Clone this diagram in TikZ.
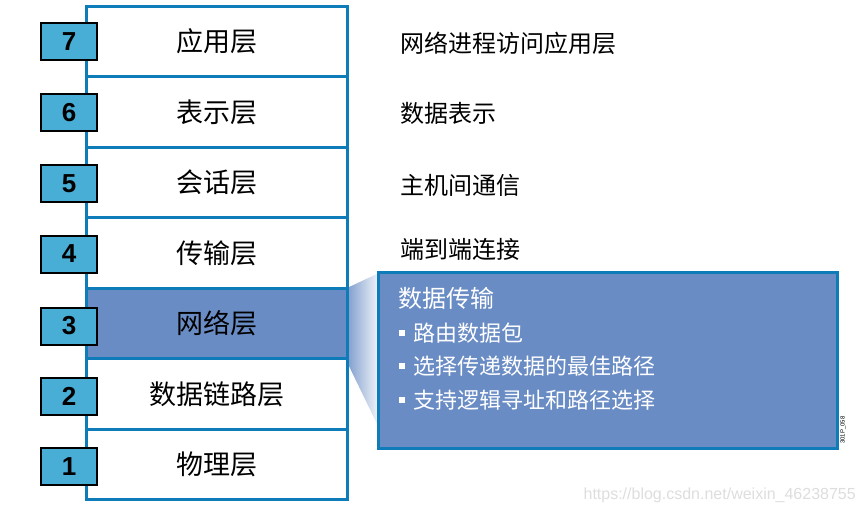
\documentclass[tikz,border=0pt]{standalone}
\usepackage{fontspec}
\setmainfont{Liberation Sans}
\newfontfamily\cjk{Noto Sans CJK SC}
\definecolor{stackblue}{RGB}{14,124,184}
\definecolor{netfill}{RGB}{105,140,196}
\definecolor{numfill}{RGB}{72,174,214}
\definecolor{wmgray}{RGB}{222,222,222}
\begin{document}
\begin{tikzpicture}[x=1pt,y=-1pt]
\tikzset{
  layer/.style={draw=stackblue, line width=3pt, fill=white, minimum width=261pt,
    minimum height=70.57pt, inner sep=0pt, font=\cjk\fontsize{27}{27}\selectfont},
  numbox/.style={draw=black, line width=2pt, fill=numfill, minimum width=56pt,
    minimum height=37pt, inner sep=0pt, font=\bfseries\fontsize{26}{26}\selectfont},
  desc/.style={anchor=west, inner sep=0pt, font=\cjk\fontsize{24}{24}\selectfont},
  intext/.style={anchor=west, inner sep=0pt, text=white, font=\cjk\fontsize{22}{22}\selectfont},
  bullet/.style={fill=white, minimum size=6.5pt, inner sep=0pt},
}
\useasboundingbox (0,0) rectangle (865,514);
\fill[white] (0,0) rectangle (865,514);

% wedge
\shade[left color=netfill!85, right color=netfill!8] (347,288) -- (379,273) -- (379,428) -- (347,362) -- cycle;

% detail box
\node[draw=stackblue, line width=3pt, fill=netfill, minimum width=459pt, minimum height=176pt, inner sep=0pt] (detail) at (607.5,360) {};
\node[intext, font=\cjk\fontsize{24}{24}\selectfont] (t0) at (398,298) {数据传输};
\node[bullet] (b1) at (402,333) {};
\node[intext] (t1) at (413,333) {路由数据包};
\node[bullet] (b2) at (402,366) {};
\node[intext] (t2) at (413,366) {选择传递数据的最佳路径};
\node[bullet] (b3) at (402,400) {};
\node[intext] (t3) at (413,400) {支持逻辑寻址和路径选择};
\node[rotate=90, inner sep=0pt, font=\fontsize{6}{6}\selectfont] (code) at (843,430) {301P\_058};

% stack
\node[layer] (L7) at (216.5,41.3) {应用层};
\node[layer] (L6) at (216.5,111.9) {表示层};
\node[layer] (L5) at (216.5,182.4) {会话层};
\node[layer] (L4) at (216.5,253.0) {传输层};
\node[layer, fill=netfill] (L3) at (216.5,323.6) {网络层};
\node[layer] (L2) at (216.5,394.1) {数据链路层};
\node[layer] (L1) at (216.5,464.7) {物理层};

% numbers
\node[numbox] (n7) at (69,41.5) {7};
\node[numbox] (n6) at (69,112.5) {6};
\node[numbox] (n5) at (69,183.5) {5};
\node[numbox] (n4) at (69,254) {4};
\node[numbox] (n3) at (69,326) {3};
\node[numbox] (n2) at (69,396) {2};
\node[numbox] (n1) at (69,466.5) {1};

% descriptions
\node[desc] (d7) at (400,43) {网络进程访问应用层};
\node[desc] (d6) at (400,113) {数据表示};
\node[desc] (d5) at (400,185) {主机间通信};
\node[desc] (d4) at (400,249) {端到端连接};

% watermark
\node[anchor=east, inner sep=0pt, text=wmgray, font=\fontsize{16}{16}\selectfont] (wm) at (856,495) {https://blog.csdn.net/weixin\_46238755};
\end{tikzpicture}
\end{document}
